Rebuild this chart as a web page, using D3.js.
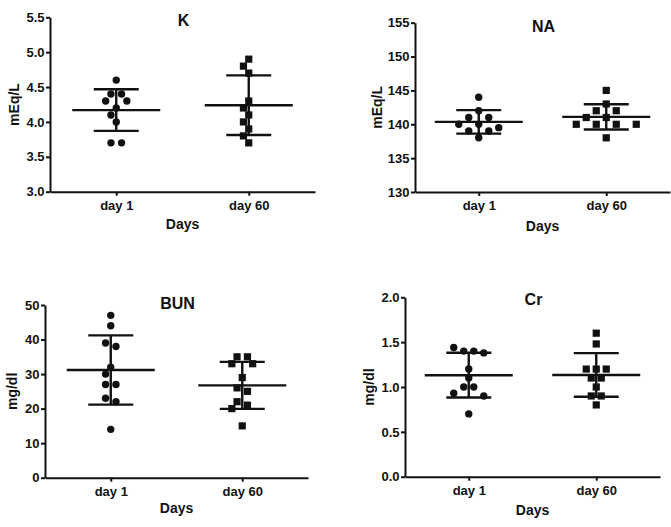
<!DOCTYPE html>
<html><head><meta charset="utf-8">
<script src="https://cdn.jsdelivr.net/npm/d3@7"></script>
<style>body{margin:0;background:#fff}text{font-family:"Liberation Sans",Arial,sans-serif;font-weight:bold;fill:#111}</style>
</head><body>
<svg id="c" width="671" height="527"></svg>
<script>
// ---- data ----
const categories = ["day 1", "day 60"];
const kDay1  = [4.6, 4.4, 4.4, 4.3, 4.3, 4.2, 4.1, 4.0, 3.7, 3.7];
const kDay60 = [4.9, 4.8, 4.7, 4.3, 4.2, 4.1, 4.0, 3.9, 3.8, 3.7];
const naDay1  = [144, 142, 141, 141, 140, 140, 139.5, 139, 139, 138];
const naDay60 = [145, 143, 142, 142, 141, 141, 140, 140, 140, 140, 138];
const bunDay1  = [47, 44, 39, 38, 32, 30, 27, 27, 23, 22, 14];
const bunDay60 = [35, 35, 33, 33, 29, 26, 25, 22, 21, 20, 15];
const crDay1  = [1.44, 1.40, 1.40, 1.38, 1.2, 1.1, 1.0, 1.0, 0.93, 0.9, 0.7];
const crDay60 = [1.6, 1.48, 1.2, 1.2, 1.2, 1.1, 1.1, 1.0, 0.9, 0.9, 0.8];
const kTicks   = [3.0, 3.5, 4.0, 4.5, 5.0, 5.5];
const naTicks  = [130, 135, 140, 145, 150, 155];
const bunTicks = [0, 10, 20, 30, 40, 50];
const crTicks  = [0.0, 0.5, 1.0, 1.5, 2.0];
const titles  = ["K", "NA", "BUN", "Cr"];
const yLabels = ["mEq/L", "mEq/L", "mg/dl", "mg/dl"];
const xLabel  = "Days";

// ---- layout ----
const panels = [
  {title: titles[0], ylab: yLabels[0], series: [kDay1, kDay60], ticks: kTicks, fmt: ".1f",
   x0: 50, x1: 315, yTop: 17.3, yBot: 191.7, titleY: 25.5, daysY: 229, ylabX: 18.7, slot: 5.3},
  {title: titles[1], ylab: yLabels[1], series: [naDay1, naDay60], ticks: naTicks, fmt: "d",
   x0: 415, x1: 670, yTop: 22.7, yBot: 192, titleY: 32, daysY: 230.5, ylabX: 382, slot: 5},
  {title: titles[2], ylab: yLabels[2], series: [bunDay1, bunDay60], ticks: bunTicks, fmt: "d",
   x0: 45, x1: 308, yTop: 305, yBot: 477.7, titleY: 309, daysY: 513, ylabX: 16.5, slot: 5.2},
  {title: titles[3], ylab: yLabels[3], series: [crDay1, crDay60], ticks: crTicks, fmt: ".1f",
   x0: 405, x1: 660, yTop: 297.3, yBot: 476.7, titleY: 305, daysY: 515, ylabX: 373.7, slot: 5}
];

const svg = d3.select("#c");
svg.append("rect").attr("width", 671).attr("height", 527).attr("fill", "#fff");

// column-scatter layout: rows of near-equal values are spread symmetrically,
// then shifted/widened to avoid overlapping symbols already placed
function swarm(vals, y, slot, d = 8.6, rowH = 6) {
  const pts = vals.map(v => ({v, py: y(v)})).sort((a, b) => a.py - b.py);
  const groups = []; let cur = null;
  for (const p of pts) {
    if (cur && p.py - cur[0].py < rowH) cur.push(p); else { cur = [p]; groups.push(cur); }
  }
  const placed = [];
  for (const g of groups) {
    const n = g.length;
    const cands = [];
    for (const w of [2, 4, 6]) for (let s = -10; s <= 10; s++) {
      const xs = g.map((p, i) => (s + (i - (n - 1) / 2) * w) * slot);
      cands.push({xs, m: d3.max(xs, Math.abs), s, w});
    }
    cands.sort((a, b) => (a.m - b.m) || (Math.abs(a.s) - Math.abs(b.s)) || (a.w - b.w) || (a.s - b.s));
    for (const c of cands) {
      const ok = g.every((p, i) => placed.every(q => Math.hypot(q.dx - c.xs[i], q.py - p.py) >= d));
      if (ok) { g.forEach((p, i) => { p.dx = c.xs[i]; placed.push(p); }); break; }
    }
  }
  return pts;
}

panels.forEach(P => {
  const g = svg.append("g");
  const x = d3.scalePoint().domain(categories).range([P.x0, P.x1]).padding(0.5);
  const y = d3.scaleLinear().domain(d3.extent(P.ticks)).range([P.yBot, P.yTop]);

  const yAxis = d3.axisLeft(y).tickValues(P.ticks).tickFormat(d3.format(P.fmt))
    .tickSize(4).tickSizeOuter(0).tickPadding(1.5);
  const ya = g.append("g").attr("transform", `translate(${P.x0},0)`).call(yAxis);
  const xAxis = d3.axisBottom(x).tickSize(4).tickSizeOuter(0).tickPadding(5);
  const xa = g.append("g").attr("transform", `translate(0,${P.yBot})`).call(xAxis);
  [ya, xa].forEach(a => {
    a.select(".domain").attr("stroke", "#111").attr("stroke-width", 2);
    a.selectAll(".tick line").attr("stroke", "#111").attr("stroke-width", 2);
    a.selectAll(".tick text").attr("font-size", 13).attr("font-family", "Liberation Sans, Arial, sans-serif")
      .attr("font-weight", "bold").attr("fill", "#111");
  });

  g.append("text").attr("x", (P.x0 + P.x1) / 2 + 1).attr("y", P.titleY)
    .attr("text-anchor", "middle").attr("font-size", 16).text(P.title);
  g.append("text").attr("x", (P.x0 + P.x1) / 2).attr("y", P.daysY)
    .attr("text-anchor", "middle").attr("font-size", 14).text(xLabel);
  g.append("text").attr("transform", `translate(${P.ylabX},${(P.yTop + P.yBot) / 2}) rotate(-90)`)
    .attr("text-anchor", "middle").attr("font-size", 14).text(P.ylab);

  P.series.forEach((vals, si) => {
    const cx = x(categories[si]);
    const m = d3.mean(vals), sd = d3.deviation(vals);
    const eb = g.append("g").attr("stroke", "#111").attr("stroke-width", 2.4).attr("fill", "none");
    eb.append("line").attr("x1", cx - 44).attr("x2", cx + 44).attr("y1", y(m)).attr("y2", y(m));
    eb.append("line").attr("x1", cx).attr("x2", cx).attr("y1", y(m + sd)).attr("y2", y(m - sd));
    [m + sd, m - sd].forEach(v => eb.append("line").attr("x1", cx - 22.5).attr("x2", cx + 22.5)
      .attr("y1", y(v)).attr("y2", y(v)));

    const pts = swarm(vals, y, P.slot);
    if (si === 0) {
      g.selectAll(null).data(pts).join("circle")
        .attr("cx", p => cx + p.dx).attr("cy", p => p.py).attr("r", 3.7).attr("fill", "#111");
    } else {
      g.selectAll(null).data(pts).join("rect")
        .attr("x", p => cx + p.dx - 3.6).attr("y", p => p.py - 3.6)
        .attr("width", 7.2).attr("height", 7.2).attr("fill", "#111");
    }
  });
});
</script>
</body></html>
